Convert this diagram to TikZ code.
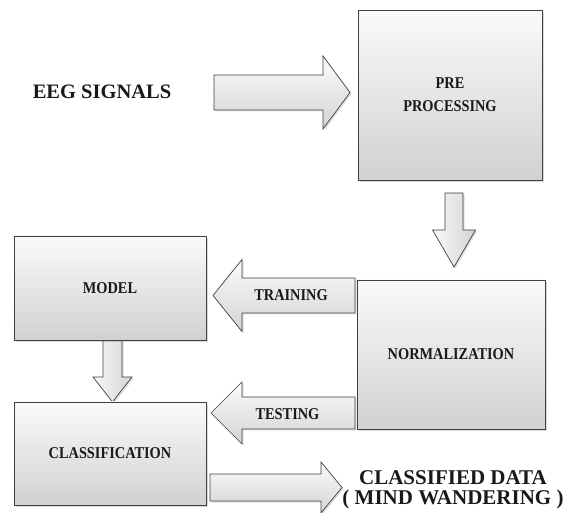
\documentclass[tikz,border=0pt]{standalone}
\usepackage{fontspec}
\setmainfont{Liberation Serif}
\newfontfamily\condfont[FakeStretch=0.87]{Liberation Serif}
\usetikzlibrary{shadows}
\newcommand\hblock[7][]{% tail x, tip x, cy, shaft half, head half, head base x
  \path[barrow,#1] (#2,#4-#5) -- (#7,#4-#5) -- (#7,#4-#6) -- (#3,#4) -- (#7,#4+#6) -- (#7,#4+#5) -- (#2,#4+#5) -- cycle;}
\newcommand\vblock[7][]{% top y, tip y, cx, shaft half, head half, head base y
  \path[barrow,#1] (#4-#5,#2) -- (#4+#5,#2) -- (#4+#5,#7) -- (#4+#6,#7) -- (#4,#3) -- (#4-#6,#7) -- (#4-#5,#7) -- cycle;}
\begin{document}
\begin{tikzpicture}[x=1pt,y=-1pt,
  box/.style={draw=black!75, line width=0.7pt, top color=gray!4, bottom color=gray!36,
    drop shadow={shadow xshift=2pt, shadow yshift=-2pt, opacity=0.3},
    inner sep=0pt, align=center, text=black!90,
    font=\condfont\bfseries\fontsize{16.5}{23}\selectfont},
  barrow/.style={draw=black!75, line width=0.7pt, top color=gray!3, bottom color=gray!34,
    drop shadow={shadow xshift=1.5pt, shadow yshift=-1.5pt, opacity=0.25}},
  vbarrow/.style={left color=gray!5, right color=gray!34},
  lbl/.style={inner sep=0pt, text=black!90, font=\condfont\bfseries\fontsize{16.5}{20}\selectfont},
  big/.style={inner sep=0pt, align=center, text=black!90, font=\bfseries\fontsize{21}{20}\selectfont}
]
\useasboundingbox (0,0) rectangle (563,513);

% block arrows
\hblock{214}{350}{92.5}{17.5}{36.5}{323}
\vblock[vbarrow]{193}{267}{454}{9}{21.5}{230}
\hblock{355}{213}{295.5}{17.5}{36}{242}
\hblock{355}{211}{413}{16}{31}{242}
\vblock[vbarrow]{340}{402}{112.5}{9.5}{19.5}{377}
\hblock{210}{342}{487.5}{13.5}{25.5}{321}

% boxes
\node[box, minimum width=184pt, minimum height=170pt] (pre) at (450,95) {PRE\\PROCESSING};
\node[box, minimum width=188pt, minimum height=149pt] (norm) at (451,354.5) {NORMALIZATION};
\node[box, minimum width=192pt, minimum height=104pt] (model) at (110,288) {MODEL};
\node[box, minimum width=192pt, minimum height=103pt] (cls) at (110,453.5) {CLASSIFICATION};

% labels
\node[big, font=\bfseries\fontsize{20.5}{20}\selectfont] (eeg) at (102,92) {EEG SIGNALS};
\node[lbl] (train) at (291,295.5) {TRAINING};
\node[lbl] (test) at (287.5,414) {TESTING};
\node[big] (out) at (453,490) {CLASSIFIED DATA\\( MIND WANDERING )};
\end{tikzpicture}
\end{document}
